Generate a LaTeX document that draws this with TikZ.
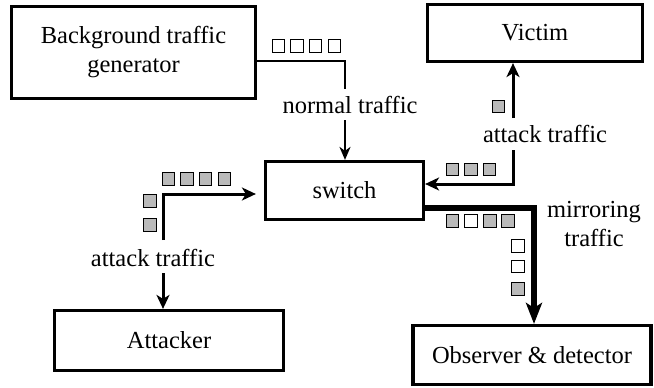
\documentclass[tikz,border=0pt]{standalone}
\usepackage{fontspec}
\setmainfont{Liberation Serif}
\usetikzlibrary{arrows.meta}
\begin{document}
\begin{tikzpicture}[x=1pt,y=-1pt,
  every node/.style={font=\fontsize{24.5}{29}\selectfont},
  box/.style={draw,line width=3.2pt,inner sep=0pt,align=center},
  lbl/.style={anchor=base,inner sep=0pt,align=center},
  pkt/.style={draw,line width=0.9pt,minimum size=12.5pt,inner sep=0pt},
  atk/.style={pkt,fill=black!27},
  nrm/.style={pkt,fill=white},
  thinflow/.style={line width=2pt},
  atkflow/.style={line width=3pt},
  mirflow/.style={line width=5.5pt},
  thinhead/.style={-{Stealth[length=13pt,width=11pt,inset=4pt]}},
  atkhead/.style={-{Stealth[length=14pt,width=13pt,inset=4pt]}},
  mirhead/.style={-{Stealth[length=21pt,width=16pt,inset=5pt]}}
]
\useasboundingbox (0,0) rectangle (654,388);

% boxes
\node[box,minimum width=244pt,minimum height=92pt] (bg) at (133.5,52.5) {Background traffic\\generator};
\node[box,minimum width=215pt,minimum height=57pt] (vic) at (535,33) {Victim};
\node[box,minimum width=158pt,minimum height=58pt] (sw) at (344.5,190.5) {switch};
\node[box,minimum width=229pt,minimum height=60pt] (att) at (169,340.5) {Attacker};
\node[box,minimum width=238pt,minimum height=59pt] (obs) at (532,355) {Observer \& detector};

% labels
\node[lbl] (nt) at (350,113) {normal traffic};
\node[lbl] (atr) at (545,142) {attack traffic};
\node[lbl] (atl) at (153,266) {attack traffic};
\node[lbl] (mir) at (594,246) {mirroring\\traffic};

% normal traffic: generator -> switch
\coordinate (n1) at (345,61);
\coordinate (n2) at (345,89);
\coordinate (n3) at (345,120);
\draw[thinflow] ([yshift=-8.5pt]bg.east) -- (n1) -- (n2);
\draw[thinflow,thinhead] (n3) -- (sw.north -| n3);

% attack traffic: switch -> victim
\coordinate (v1) at (513,118);
\coordinate (v2) at (513,150);
\draw[atkflow,atkhead] (v1) -- (vic.south -| v1);
\draw[atkflow,atkhead] (v2) |- ([yshift=6.5pt]sw.east);

% attack traffic: attacker <-> switch
\coordinate (a1) at (163,240);
\coordinate (a2) at (163,273);
\draw[atkflow,atkhead,shorten >=8pt] (a1) |- ([yshift=-3.5pt]sw.west);
\draw[atkflow,atkhead] (a2) -- (att.north -| a2);

% mirrored traffic: switch -> observer
\coordinate (m1) at (534,208);
\draw[mirflow,mirhead] ([yshift=-17.5pt]sw.east) -- (m1) -- (obs.north -| m1);

% packets on the normal path
\foreach \i/\x in {1/278.5,2/297,3/315.5,4/334.5}
  \node[nrm] (np\i) at (\x,46) {};

% packets on the attacker path
\foreach \i/\x in {1/168.5,2/187,3/205.5,4/224.5}
  \node[atk] (ah\i) at (\x,179) {};
\node[atk] (av1) at (150,201) {};
\node[atk] (av2) at (150,225) {};

% packets on the victim path
\node[atk] (vp0) at (498.5,106.5) {};
\foreach \i/\x in {1/452.5,2/471,3/489.6}
  \node[atk] (vp\i) at (\x,169.5) {};

% packets on the mirror path
\node[atk] (mh1) at (452.5,221) {};
\node[nrm] (mh2) at (471,221) {};
\node[atk] (mh3) at (489.7,221) {};
\node[atk] (mh4) at (508,221) {};
\node[nrm] (mv1) at (518,246) {};
\node[nrm] (mv2) at (518,266.5) {};
\node[atk] (mv3) at (518,288.7) {};
\end{tikzpicture}
\end{document}
